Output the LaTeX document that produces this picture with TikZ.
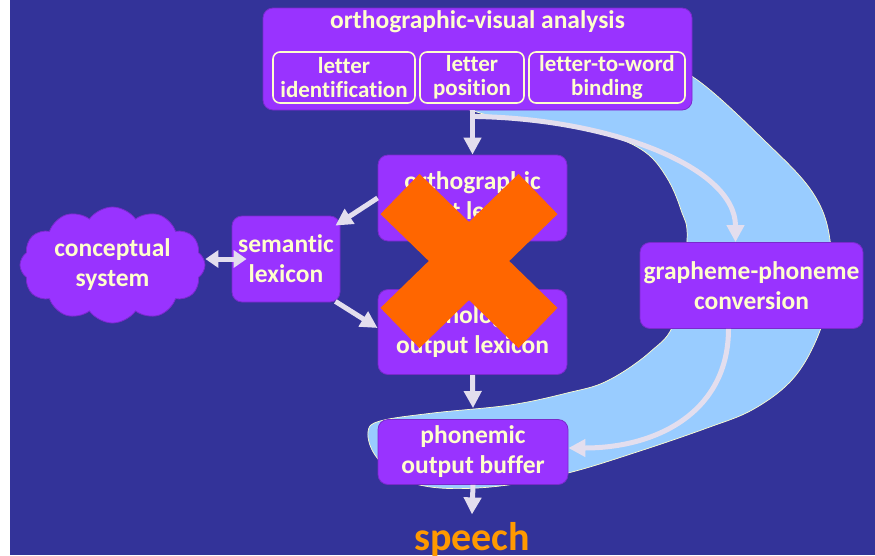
\documentclass[tikz,border=0pt]{standalone}
\usepackage{fontspec}
\setmainfont{Carlito}[Ligatures=NoCommon]
\usetikzlibrary{arrows.meta,positioning,shapes.symbols}

\definecolor{slide}{HTML}{333399}
\definecolor{boxfill}{HTML}{9933FF}
\definecolor{boxline}{HTML}{7A2ACC}
\definecolor{txt}{HTML}{FFFFCC}
\definecolor{arrowc}{HTML}{E3DEEE}
\definecolor{band}{HTML}{99CCFF}
\definecolor{crossc}{HTML}{FF6600}
\definecolor{speechc}{HTML}{FF9900}

\newcommand\boxtext{\fontsize{25.5}{30}\selectfont\bfseries}
\newcommand\subtext{\fontsize{23}{24}\selectfont\bfseries}

\tikzset{
  box/.style={rectangle, rounded corners=10pt, fill=boxfill, draw=boxline,
    line width=0.8pt, text=txt, align=center, font=\boxtext, inner sep=1pt},
  subbox/.style={box, draw=txt, line width=1.6pt, rounded corners=7pt, font=\subtext},
  flow/.style={draw=arrowc, line width=5pt, -{Triangle[width=17pt,length=17pt]}},
  dflow/.style={draw=arrowc, line width=5pt,
    {Triangle[width=17pt,length=13pt]}-{Triangle[width=17pt,length=13pt]}},
  xmark/.style={draw=crossc, line width=56pt},
}

\begin{document}
\begin{tikzpicture}[x=1pt, y=-1pt]
  \useasboundingbox (0,0) rectangle (875,555);
  % slide background
  \fill[white] (0,0) rectangle (875,555);
  \fill[slide] (10,0) rectangle (875,555);

  % light blue band (sublexical route)
  \filldraw[fill=band, draw=txt, line width=0.7pt] plot[smooth cycle, tension=0.6] coordinates {
    (640,60) (693,77) (767,143) (813,193) (830,240) (828,300) (814,345) (790,382)
    (752,410) (707,428) (640,451) (568,473) (500,486) (440,488) (400,478) (375,455) (368,432)
    (380,421) (433,413) (510,405) (567,393) (607,381) (650,352) (675,320)
    (687,240) (681,210) (667,178) (645,152) (607,135) (540,122) (480,113) (480,100)};

  % boxes
  \node[box, minimum width=429pt, minimum height=102pt] (top) at (477.5,59) {};
  \node[text=txt, font=\boxtext, anchor=base] (title) at (477.5,28) {orthographic-visual analysis};
  \node[subbox, minimum width=142pt, minimum height=51pt] (letid) at (344,77.5) {letter\\identification};
  \node[subbox, minimum width=104pt, minimum height=51pt] (letpos) at (472,77.5) {letter\\position};
  \node[subbox, minimum width=156pt, minimum height=51pt] (binding) at (607,77.5) {letter-to-word\\binding};

  \node[box, minimum width=189pt, minimum height=86pt] (ortho) at (472.5,198) {orthographic\\input lexicon};
  \node[box, minimum width=189pt, minimum height=85pt] (phono) at (472.5,332) {phonological\\output lexicon};
  \node[box, minimum width=108pt, minimum height=86pt] (semantic) at (286,259) {semantic\\lexicon};
  \node[cloud, cloud puffs=12, cloud puff arc=110, cloud ignores aspect, fill=boxfill, draw=boxline,
    line width=0.8pt, text=txt, align=center, font=\boxtext,
    minimum width=185pt, minimum height=116pt] (concept) at (112.5,265) {conceptual\\system};
  \node[box, minimum width=223pt, minimum height=86pt] (gp) at (751.5,285.5) {grapheme-phoneme\\conversion};
  \node[box, minimum width=190pt, minimum height=65pt] (buffer) at (473,452) {phonemic\\output buffer};
  \node[text=speechc, font=\fontsize{40}{44}\selectfont\bfseries, anchor=base] (speech) at (472,550) {speech};

  % connectors
  \coordinate[yshift=-6pt] (split) at (ortho.north |- top.south);
  \draw[flow] (ortho.north |- top.south) -- (ortho.north);
  \draw[flow] (split) .. controls +(138,2) and +(0,-75) .. ([xshift=-16pt]gp.north);
  \draw[flow] ([xshift=-23pt]gp.south) .. controls +(0,82) and +(90,0) .. ([yshift=4pt]buffer.east);
  \draw[flow] (ortho.west) -- ([xshift=-5pt,yshift=-10pt]semantic.north east);
  \draw[flow] ([xshift=-5pt,yshift=1pt]semantic.south east) -- ([yshift=4pt]phono.west);
  \draw[dflow] (concept.east |- semantic.west) -- ([xshift=15pt]semantic.west);
  \draw[flow] (phono.south) -- ([yshift=11pt]buffer.north);
  \draw[flow] (buffer.south) -- ([yshift=4pt]speech.north);

  % lesion
  \draw[xmark] (400,194) -- (538,328);
  \draw[xmark] (538,194) -- (400,328);
\end{tikzpicture}
\end{document}
